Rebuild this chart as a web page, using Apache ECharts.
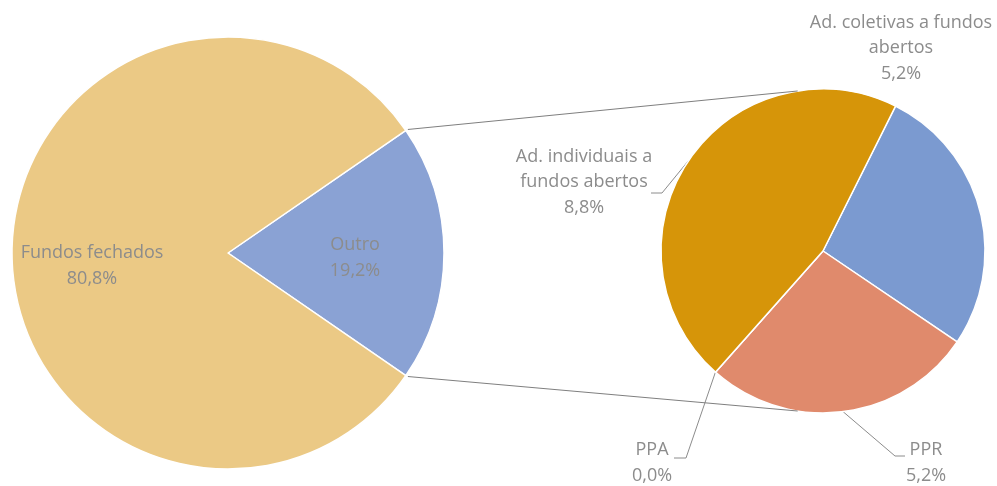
<!DOCTYPE html>
<html>
<head>
<meta charset="utf-8">
<script src="https://cdn.jsdelivr.net/npm/echarts@6/dist/echarts.min.js"></script>
<style>html,body{margin:0;padding:0;background:#fff;}#chart{width:997px;height:486px;}</style>
</head>
<body>
<div id="chart"></div>
<script>
// ---- data ----
const leftNames = ['Outro', 'Fundos fechados'];
const leftValues = [19.2, 80.8];
const leftLabels = ['Outro\n19,2%', 'Fundos fechados\n80,8%'];
const rightNames = ['Ad. coletivas a fundos abertos', 'PPR', 'PPA', 'Ad. individuais a fundos abertos'];
const rightValues = [5.2, 5.2, 0.0, 8.8];
const rightLabels = ['Ad. coletivas a fundos\nabertos\n5,2%', 'PPR\n5,2%', 'PPA\n0,0%', 'Ad. individuais a\nfundos abertos\n8,8%'];

// ---- layout / style ----
const leftColors = ['#8AA2D4', '#EBC985'];
const rightColors = ['#7B9AD0', '#E08A6C', '#D28C0A', '#D69509'];
const L = {cx: 228, cy: 253, r: 216};
const R = {cx: 823, cy: 251, r: 162, start: 63.4};
const textColor = '#8c8c8c';
const font = {fontFamily: 'Open Sans', fontSize: 18, lineHeight: 25.5, color: textColor};

const leftLabelPos = [[355, 258], [92, 266]];
const rightLabelPos = [
  {x: 901, y: 48},
  {x: 926, y: 463, elbow: [895, 456], end: [905, 456]},
  {x: 652, y: 463, elbow: [686, 458], end: [674, 458]},
  {x: 584, y: 182, elbow: [662, 193], end: [651, 193]}
];

const leftSum = leftValues.reduce((a, b) => a + b, 0);
const rightSum = rightValues.reduce((a, b) => a + b, 0);
const leftStart = leftValues[0] / leftSum * 180;

// mid angle (math, degrees) of each right slice
function midAngle(i) {
  let acc = 0;
  for (let k = 0; k < i; k++) acc += rightValues[k];
  const a0 = R.start - acc / rightSum * 360;
  const a1 = a0 - rightValues[i] / rightSum * 360;
  return (a0 + a1) / 2;
}

const rad = Math.PI / 180;
const ha = leftStart * rad;
const p1 = [L.cx + L.r * Math.cos(ha) + 2, L.cy - L.r * Math.sin(ha) - 1];
const p2 = [L.cx + L.r * Math.cos(ha) + 2, L.cy + L.r * Math.sin(ha) + 1];
const qa = 99 * rad;
const q1 = [R.cx + R.r * Math.cos(qa), R.cy - R.r * Math.sin(qa)];
const q2 = [R.cx + R.r * Math.cos(qa), R.cy + R.r * Math.sin(qa)];

const chart = echarts.init(document.getElementById('chart'), null, {renderer: 'canvas'});
chart.setOption({
  animation: false,
  backgroundColor: '#fff',
  series: [
    {
      type: 'pie',
      center: [L.cx, L.cy],
      radius: [0, L.r],
      startAngle: leftStart,
      clockwise: true,
      avoidLabelOverlap: false,
      emphasis: {disabled: true},
      itemStyle: {borderColor: '#fff', borderWidth: 1.5},
      label: Object.assign({show: true, position: 'inside', align: 'center',
        formatter: p => leftLabels[p.dataIndex]}, font),
      labelLine: {show: false},
      labelLayout: p => ({x: leftLabelPos[p.dataIndex][0], y: leftLabelPos[p.dataIndex][1], align: 'center', verticalAlign: 'middle'}),
      data: leftNames.map((n, i) => ({name: n, value: leftValues[i], itemStyle: {color: leftColors[i]}}))
    },
    {
      type: 'pie',
      center: [R.cx, R.cy],
      radius: [0, R.r],
      startAngle: R.start,
      clockwise: true,
      avoidLabelOverlap: false,
      emphasis: {disabled: true},
      itemStyle: {borderColor: '#fff', borderWidth: 1.5},
      label: Object.assign({show: true, position: 'outside', align: 'center',
        formatter: p => rightLabels[p.dataIndex]}, font),
      labelLine: {show: true, length: 10, length2: 10, lineStyle: {color: '#8c8c8c', width: 1}},
      labelLayout: function (p) {
        const pos = rightLabelPos[p.dataIndex];
        const res = {x: pos.x, y: pos.y, align: 'center', verticalAlign: 'middle'};
        if (pos.elbow) {
          const m = midAngle(p.dataIndex) * rad;
          const s = [R.cx + R.r * Math.cos(m), R.cy - R.r * Math.sin(m)];
          res.labelLinePoints = [s, pos.elbow, pos.end];
        }
        return res;
      },
      data: rightNames.map((n, i) => ({
        name: n, value: rightValues[i], itemStyle: {color: rightColors[i]},
        labelLine: {show: !!rightLabelPos[i].elbow}
      }))
    }
  ],
  graphic: [
    {type: 'line', z: 100, shape: {x1: p1[0], y1: p1[1], x2: q1[0], y2: q1[1]}, style: {stroke: '#7f7f7f', lineWidth: 1}},
    {type: 'line', z: 100, shape: {x1: p2[0], y1: p2[1], x2: q2[0], y2: q2[1]}, style: {stroke: '#7f7f7f', lineWidth: 1}}
  ]
});
</script>
</body>
</html>
